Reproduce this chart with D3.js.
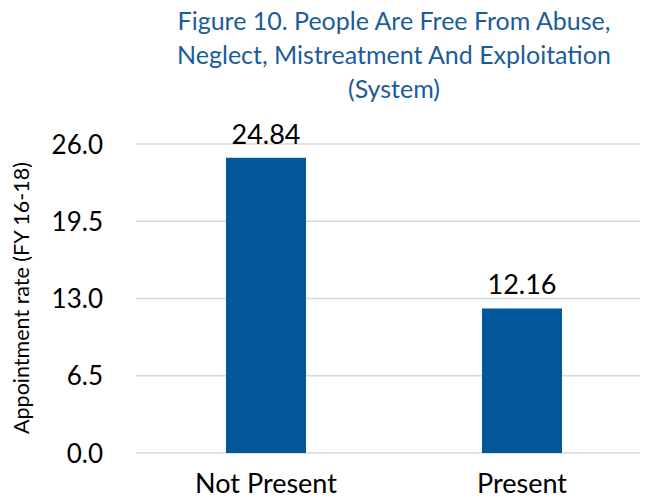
<!DOCTYPE html>
<html>
<head>
<meta charset="utf-8">
<script src="https://cdn.jsdelivr.net/npm/d3@7"></script>
<style>
html,body{margin:0;padding:0;background:#fff;}
svg{display:block;font-family:Lato, "Open Sans", sans-serif;}
</style>
</head>
<body>
<svg id="chart" width="651" height="499"></svg>
<script>
const categories = ["Not Present", "Present"];
const values = [24.84, 12.16];
const valueLabels = ["24.84", "12.16"];
const tickValues = [0, 6.5, 13, 19.5, 26];
const titleLines = ["Figure 10. People Are Free From Abuse,", "Neglect, Mistreatment And Exploitation", "(System)"];
const yAxisTitle = "Appointment rate (FY 16-18)";

const svg = d3.select("#chart");
const plot = {left: 136, right: 648, top: 144, bottom: 453};

const x = d3.scaleBand().domain(categories).range([plot.left + 2, plot.right + 2]).paddingInner(0.6875).paddingOuter(0.34375);
const y = d3.scaleLinear().domain([0, 26]).range([plot.bottom, plot.top]);

// gridlines
svg.append("g").selectAll("line").data(tickValues).join("line")
  .attr("x1", plot.left).attr("x2", 640)
  .attr("y1", d => y(d)).attr("y2", d => y(d))
  .attr("stroke", "#d9d9d9").attr("stroke-width", 1.5);

// y axis ticks
const yAxis = d3.axisLeft(y).tickValues(tickValues).tickFormat(d3.format(".1f")).tickSize(0).tickPadding(0);
const gy = svg.append("g").attr("transform", `translate(103,0)`).call(yAxis);
gy.select(".domain").remove();
gy.selectAll("text").attr("font-size", 26).attr("fill", "#000").attr("font-family", "Lato").attr("dy", "0.35em");

// bars
svg.append("g").selectAll("rect").data(values).join("rect")
  .attr("x", (d, i) => x(categories[i]))
  .attr("width", x.bandwidth())
  .attr("y", d => y(d))
  .attr("height", d => y(0) - y(d))
  .attr("fill", "#02569a");

// value labels
svg.append("g").selectAll("text").data(values).join("text")
  .attr("x", (d, i) => x(categories[i]) + x.bandwidth() / 2)
  .attr("y", d => y(d) - 14)
  .attr("text-anchor", "middle")
  .attr("font-size", 27)
  .attr("fill", "#000")
  .text((d, i) => valueLabels[i]);

// x axis labels
const xAxis = d3.axisBottom(x).tickSize(0).tickPadding(0);
const gx = svg.append("g").attr("transform", `translate(0,${plot.bottom})`).call(xAxis);
gx.select(".domain").remove();
gx.selectAll("text").attr("font-size", 27).attr("fill", "#000").attr("font-family", "Lato").attr("dy", null).attr("y", 40);

// title
svg.append("g").selectAll("text").data(titleLines).join("text")
  .attr("x", 394)
  .attr("y", (d, i) => 30 + i * 34)
  .attr("text-anchor", "middle")
  .attr("font-size", 25)
  .attr("fill", "#1b5c9a")
  .text(d => d);

// y axis title
svg.append("text")
  .attr("transform", `translate(29,298) rotate(-90)`)
  .attr("text-anchor", "middle")
  .attr("font-size", 21.5)
  .attr("fill", "#000")
  .text(yAxisTitle);
</script>
</body>
</html>
